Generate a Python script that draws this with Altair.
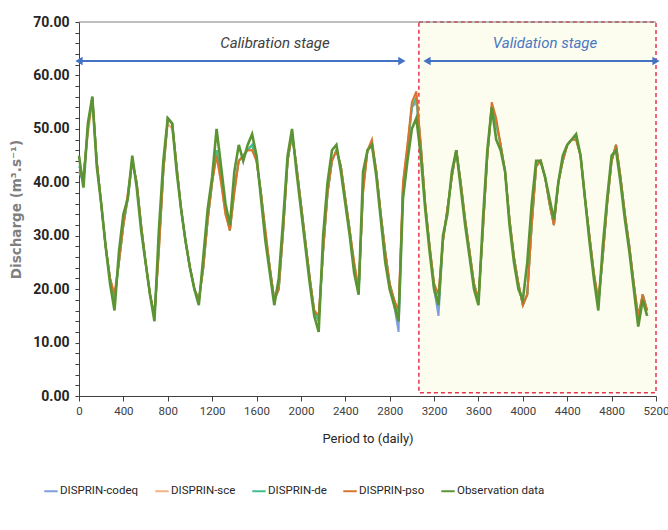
import altair as alt
import pandas as pd

# ---- data (day, discharge m3/s) ----
days = list(range(0, 5121, 40))

obs = [45, 39, 51, 56, 43, 36, 28, 21, 16, 27, 34, 37, 45, 39, 31, 25, 19, 14, 31, 44,
       52, 51, 42, 35, 29, 24, 20, 17, 26, 35, 41, 50, 43, 36, 32, 42, 47, 44, 47, 49,
       45, 37, 29, 23, 17, 22, 33, 45, 50, 42, 35, 28, 21, 15, 12, 30, 40, 46, 47, 42,
       36, 30, 23, 19, 42, 46, 47, 41, 33, 25, 20, 17, 14, 37, 44, 50, 52, 45, 35, 27,
       20, 17, 30, 34, 42, 46, 39, 32, 26, 20, 17, 33, 46, 54, 48, 46, 42, 32, 25, 20,
       18, 25, 36, 44, 44, 41, 37, 33, 40, 45, 47, 48, 49, 45, 37, 29, 22, 16, 28, 37,
       45, 46, 40, 33, 27, 20, 13, 18, 15]

pso = [42, 41, 50, 56, 44, 36, 28, 22, 19, 25, 32, 38, 44, 40, 32, 25, 19, 15, 27, 42,
       52, 51, 43, 35, 29, 24, 20, 18, 24, 33, 40, 45, 40, 34, 31, 38, 44, 45, 46, 46,
       44, 38, 31, 24, 18, 20, 31, 44, 49, 43, 36, 29, 22, 16, 15, 27, 38, 44, 46, 43,
       37, 31, 25, 20, 38, 46, 48, 42, 34, 27, 21, 18, 16, 40, 47, 55, 57, 47, 36, 28,
       21, 19, 29, 35, 41, 46, 40, 33, 27, 21, 18, 31, 45, 55, 52, 47, 42, 33, 26, 21,
       17, 19, 32, 43, 44, 41, 36, 32, 40, 44, 47, 48, 48, 45, 37, 30, 23, 18, 26, 36,
       44, 47, 41, 34, 28, 21, 15, 19, 16]

sce = [42, 41, 49, 55, 44, 36, 28, 22, 19, 25, 32, 37, 44, 40, 32, 25, 19, 15, 27, 42,
       51, 50, 43, 35, 29, 24, 20, 18, 24, 33, 40, 45, 40, 34, 31, 38, 44, 45, 46, 46,
       44, 38, 31, 24, 18, 20, 31, 44, 49, 43, 36, 29, 22, 16, 15, 27, 38, 44, 46, 43,
       37, 31, 25, 20, 38, 46, 47, 42, 34, 27, 21, 18, 16, 40, 47, 54, 56, 47, 36, 28,
       21, 19, 29, 35, 41, 46, 40, 33, 27, 21, 18, 31, 45, 54, 51, 47, 42, 33, 26, 21,
       17, 19, 32, 43, 44, 41, 36, 32, 40, 44, 47, 48, 48, 45, 37, 30, 23, 18, 26, 36,
       44, 47, 41, 34, 28, 21, 15, 19, 16]

de = [43, 41, 50, 56, 44, 36, 28, 22, 18, 25, 32, 37, 44, 40, 32, 25, 19, 15, 28, 42,
      52, 51, 43, 35, 29, 24, 20, 18, 24, 33, 40, 46, 41, 35, 31, 39, 44, 45, 46, 47,
      44, 38, 30, 24, 18, 20, 31, 44, 49, 43, 36, 29, 22, 16, 14, 27, 38, 44, 46, 43,
      37, 31, 24, 19, 39, 46, 47, 42, 34, 27, 21, 18, 14, 39, 46, 54, 56, 47, 36, 28,
      21, 17, 29, 35, 41, 46, 40, 33, 27, 21, 18, 31, 45, 54, 51, 47, 42, 33, 26, 21,
      17, 19, 32, 43, 44, 41, 36, 32, 40, 44, 47, 48, 48, 45, 37, 30, 23, 17, 26, 36,
      44, 47, 41, 34, 28, 21, 14, 19, 16]

codeq = [42, 40, 50, 56, 44, 36, 28, 22, 18, 25, 32, 37, 44, 40, 32, 25, 19, 15, 28, 42,
         52, 51, 43, 35, 29, 24, 20, 18, 24, 33, 40, 46, 41, 35, 31, 39, 44, 45, 46, 47,
         44, 38, 30, 24, 18, 20, 31, 44, 49, 43, 36, 29, 22, 16, 14, 27, 38, 44, 46, 43,
         37, 31, 24, 19, 39, 46, 47, 42, 34, 27, 21, 17, 12, 39, 46, 54, 55, 47, 36, 28,
         20, 15, 29, 35, 41, 46, 40, 33, 27, 21, 18, 31, 45, 54, 51, 47, 42, 33, 26, 21,
         17, 19, 32, 43, 44, 41, 36, 32, 40, 44, 47, 48, 48, 45, 37, 30, 23, 17, 26, 36,
         44, 47, 41, 34, 28, 21, 14, 19, 16]

series_names = ["DISPRIN-codeq", "DISPRIN-sce", "DISPRIN-de", "DISPRIN-pso", "Observation data"]
series_values = [codeq, sce, de, pso, obs]
series_colors = ["#7f9fdc", "#f4b183", "#3fbf8c", "#d8742e", "#5b9433"]

x_ticks = list(range(0, 5201, 400))
y_ticks = list(range(0, 71, 2))

# stage annotations
stage_labels = ["Calibration stage", "Validation stage"]
stage_label_x = [1766, 4200]
stage_label_color = ["#404040", "#4a78c2"]
arrow_start = [0, 3136]
arrow_end = [2910, 5200]
arrow_y = 62.7
label_y = 66.1
valid_box = {"x": 3063, "x2": 5200, "y": 0.6, "y2": 70}

FONT = "Roboto"

xscale = alt.Scale(domain=[0, 5200], nice=False, zero=False)
yscale = alt.Scale(domain=[0, 70], nice=False)
cscale = alt.Scale(domain=series_names, range=series_colors)

x_axis = alt.Axis(values=x_ticks, format="d", title="Period to (daily)", grid=False,
                  labelFlush=False, labelOverlap=False,
                  tickSize=5, tickColor="#404040", domainColor="#404040",
                  labelFont=FONT, labelFontSize=11.5, labelColor="#404040",
                  titleFont=FONT, titleFontSize=13, titleFontWeight="normal",
                  titleColor="#262626", titlePadding=16, labelPadding=4)
y_axis = alt.Axis(values=y_ticks, title="Discharge (m³.s⁻¹)", grid=False,
                  labelExpr="datum.value % 10 == 0 ? format(datum.value, '.2f') : ''",
                  labelOverlap=False, labelBound=False, tickSize=4, tickColor="#404040",
                  domainColor="#404040",
                  labelFont=FONT, labelFontSize=14, labelColor="#262626", labelFontWeight="bold",
                  titleFont="DejaVu Sans", titleFontSize=13.5, titleFontWeight="bold",
                  titleColor="#7f7f7f", titlePadding=9, labelPadding=6)


def X(field):
    return alt.X(field, scale=xscale, axis=x_axis)


def Y(field):
    return alt.Y(field, scale=yscale, axis=y_axis)


# validation box
box_df = pd.DataFrame([valid_box])
box = alt.Chart(box_df).mark_rect(fill="#fcfcef", stroke="#e8344e", strokeDash=[4, 3],
                                  strokeWidth=1.5).encode(
    x=X("x:Q"), x2="x2:Q", y=Y("y:Q"), y2="y2:Q")

top_rule = alt.Chart(pd.DataFrame({"y": [70]})).mark_rule(color="#7f7f7f", strokeWidth=1).encode(
    y=Y("y:Q"))

legend = alt.Legend(title=None, orient="none", legendX=-36, legendY=461,
                    direction="horizontal", columns=5,
                    symbolType="stroke", symbolStrokeWidth=2,
                    symbolSize=180, labelFont=FONT, labelFontSize=11.5,
                    labelColor="#262626", columnPadding=12, labelOffset=1,
                    labelLimit=200)

layers = [box, top_rule]
for name, vals in zip(series_names, series_values):
    df = pd.DataFrame({"day": days, "value": vals, "series": name})
    layers.append(
        alt.Chart(df).mark_line(strokeWidth=2.6 if name == "Observation data" else 2.0).encode(
            x=X("day:Q"),
            y=Y("value:Q"),
            color=alt.Color("series:N", scale=cscale, sort=series_names, legend=legend),
        )
    )

arrow_df = pd.DataFrame({"x": arrow_start, "x2": arrow_end, "y": [arrow_y] * 2})
arrow_line = alt.Chart(arrow_df).mark_rule(color="#4472c4", strokeWidth=2).encode(
    x=X("x:Q"), x2="x2:Q", y=Y("y:Q"))
heads_df = pd.DataFrame({
    "x": arrow_start + arrow_end,
    "y": [arrow_y] * 4,
    "shape": ["triangle-left", "triangle-left", "triangle-right", "triangle-right"],
})
heads = alt.Chart(heads_df).mark_point(filled=True, color="#4472c4", size=70, opacity=1).encode(
    x=X("x:Q"), y=Y("y:Q"),
    shape=alt.Shape("shape:N", scale=None))

text_df = pd.DataFrame({"x": stage_label_x, "y": [label_y] * 2, "t": stage_labels,
                        "c": stage_label_color})
texts = alt.Chart(text_df).mark_text(font=FONT, fontSize=15, fontStyle="italic").encode(
    x=X("x:Q"), y=Y("y:Q"), text="t:N",
    color=alt.Color("c:N", scale=None))

chart = alt.layer(*layers, arrow_line, heads, texts).properties(
    width=577, height=374,
    padding={"left": 79, "top": 22, "right": 12, "bottom": 134},
    autosize=alt.AutoSizeParams(type="none"),
    background="white",
).configure_view(stroke=None)

chart.save("out.html", embed_options={"renderer": "svg", "actions": False})
